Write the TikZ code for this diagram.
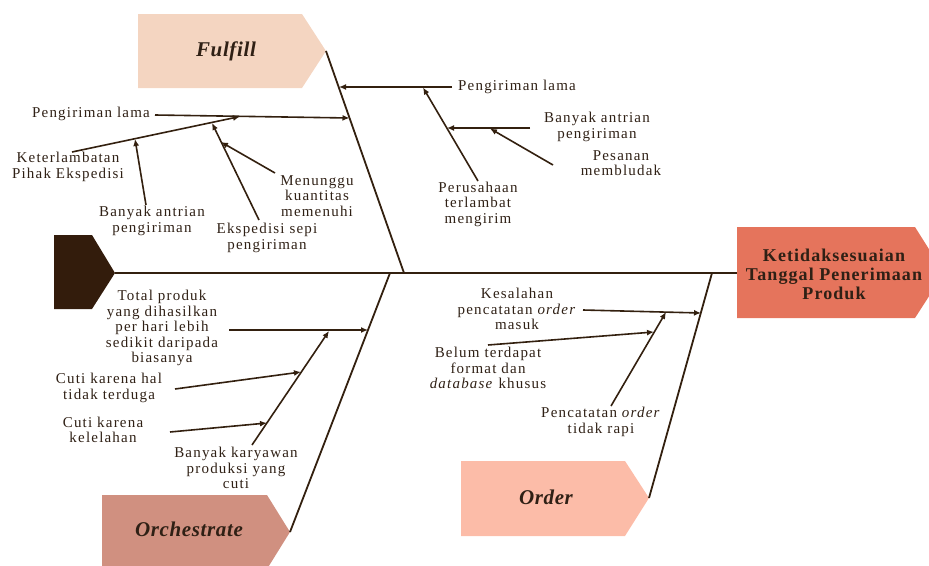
\documentclass[tikz,border=0pt]{standalone}
\usepackage{fontspec}
\setmainfont{Liberation Serif}
\newfontfamily\lblfont[LetterSpace=8]{Liberation Serif}
\newfontfamily\catfont[LetterSpace=3]{Liberation Serif}
\newfontfamily\headfont[LetterSpace=6]{Liberation Serif}
\usetikzlibrary{arrows.meta}
\definecolor{ink}{HTML}{33200F}
\definecolor{txt}{HTML}{2F2015}
\definecolor{fulfillc}{HTML}{F4D5C1}
\definecolor{orchc}{HTML}{D09080}
\definecolor{orderc}{HTML}{FCBCA8}
\definecolor{headc}{HTML}{E5745C}
\definecolor{tailc}{HTML}{331C0C}
\begin{document}
\begin{tikzpicture}[x=1pt,y=-1pt,
  lbl/.style={font=\lblfont\fontsize{15}{15.5}\selectfont, text=txt, align=center, inner sep=0pt},
  cat/.style={font=\catfont\fontsize{21}{24}\selectfont\bfseries\itshape, text=txt, inner sep=0pt},
  headtxt/.style={font=\headfont\fontsize{18}{19}\selectfont\bfseries, text=txt, align=center, inner sep=0pt},
  bone/.style={draw=ink, line width=1.8pt},
  sub/.style={draw=ink, line width=1.6pt, -{Latex[length=7pt,width=6pt]}}]
\useasboundingbox (0,0) rectangle (929,565);

% ---- category blocks and head ----
\begin{scope}
\clip (0,0) rectangle (929,565);
\fill[tailc] (54,235) -- (92,235) -- (115,273) -- (92,309) -- (54,309) -- cycle;
\fill[fulfillc] (138,14) -- (302,14) -- (326,51) -- (302,88) -- (138,88) -- cycle;
\fill[orchc] (102,495) -- (267,495) -- (290,532) -- (267,569) -- (102,569) -- cycle;
\fill[orderc] (461,461) -- (625,461) -- (649,498) -- (625,536) -- (461,536) -- cycle;
\fill[headc] (737,227) -- (915,227) -- (944,273) -- (915,318) -- (737,318) -- cycle;
\end{scope}

\coordinate (tail) at (115,273);
\coordinate (headL) at (737,273);
\coordinate (fTip) at (326,51);
\coordinate (oTip) at (290,532);
\coordinate (rTip) at (649,498);
\coordinate (fEnd) at (404,273);
\coordinate (oEnd) at (390,273);
\coordinate (rEnd) at (712,273);

\node[cat] (fulfill) at (226,51) {Fulfill};
\node[cat] (orch) at (189,529) {Orchestrate};
\node[cat] (order) at (546,497) {Order};
\node[headtxt] (head) at (834,274) {Ketidaksesuaian\\Tanggal Penerimaan\\Produk};

% ---- spine and main bones ----
\draw[bone] (tail) -- (headL);
\draw[bone] (fTip) -- (fEnd);
\draw[bone] (oTip) -- (oEnd);
\draw[bone] (rTip) -- (rEnd);

% ---- Fulfill causes (left) ----
\coordinate (a1s) at (155,115);  \coordinate (a1e) at (349.5,118);
\coordinate (a2s) at (72,152);   \coordinate (a2e) at (240,116.5);
\coordinate (a3s) at (146,205);  \coordinate (a3e) at (135,139);
\coordinate (a4s) at (259,220);  \coordinate (a4e) at (212,123);
\coordinate (a5s) at (275,173);  \coordinate (a5e) at (221,142);
\draw[sub] (a1s) -- (a1e);
\draw[sub] (a2s) -- (a2e);
\draw[sub] (a3s) -- (a3e);
\draw[sub] (a4s) -- (a4e);
\draw[sub] (a5s) -- (a5e);
\node[lbl, anchor=east] (la1) at (150,114) {Pengiriman lama};
\node[lbl] (la2) at (68,167) {Keterlambatan\\Pihak Ekspedisi};
\node[lbl] (la3) at (152,221) {Banyak antrian\\pengiriman};
\node[lbl] (la5) at (317,196) {Menunggu\\kuantitas\\memenuhi};
\node[lbl] (la4) at (267,238) {Ekspedisi sepi\\pengiriman};

% ---- Fulfill causes (right) ----
\coordinate (b1s) at (452,87);   \coordinate (b1e) at (339,87);
\coordinate (b2s) at (478,181);  \coordinate (b2e) at (423,87.5);
\coordinate (b3s) at (530,128);  \coordinate (b3e) at (447,128);
\coordinate (b4s) at (553,165);  \coordinate (b4e) at (490,128.5);
\draw[sub] (b1s) -- (b1e);
\draw[sub] (b2s) -- (b2e);
\draw[sub] (b3s) -- (b3e);
\draw[sub] (b4s) -- (b4e);
\node[lbl, anchor=west] (lb1) at (458,87) {Pengiriman lama};
\node[lbl] (lb2) at (478,204) {Perusahaan\\terlambat\\mengirim};
\node[lbl] (lb3) at (597,127) {Banyak antrian\\pengiriman};
\node[lbl] (lb4) at (621,163) {Pesanan\\membludak};

% ---- Orchestrate causes ----
\coordinate (c1s) at (229,330);  \coordinate (c1e) at (368,330);
\coordinate (c2s) at (252,445);  \coordinate (c2e) at (329,331);
\coordinate (c3s) at (175,389);  \coordinate (c3e) at (301,372);
\coordinate (c4s) at (170,432);  \coordinate (c4e) at (267,423);
\draw[sub] (c1s) -- (c1e);
\draw[sub] (c2s) -- (c2e);
\draw[sub] (c3s) -- (c3e);
\draw[sub] (c4s) -- (c4e);
\node[lbl] (lc1) at (162,328) {Total produk\\yang dihasilkan\\per hari lebih\\sedikit daripada\\biasanya};
\node[lbl] (lc3) at (109,388) {Cuti karena hal\\tidak terduga};
\node[lbl] (lc4) at (103,430) {Cuti karena\\kelelahan};
\node[lbl] (lc2) at (236,468) {Banyak karyawan\\produksi yang\\cuti};

% ---- Order causes ----
\coordinate (d1s) at (583,310);  \coordinate (d1e) at (701,313);
\coordinate (d2s) at (611,406);  \coordinate (d2e) at (666,312);
\coordinate (d3s) at (488,345);  \coordinate (d3e) at (654,332);
\draw[sub] (d1s) -- (d1e);
\draw[sub] (d2s) -- (d2e);
\draw[sub] (d3s) -- (d3e);
\node[lbl] (ld1) at (517,309) {Kesalahan\\pencatatan \textit{order}\\masuk};
\node[lbl] (ld3) at (488,368) {Belum terdapat\\format dan\\\textit{database} khusus};
\node[lbl] (ld2) at (601,422) {Pencatatan \textit{order}\\tidak rapi};
\end{tikzpicture}
\end{document}
